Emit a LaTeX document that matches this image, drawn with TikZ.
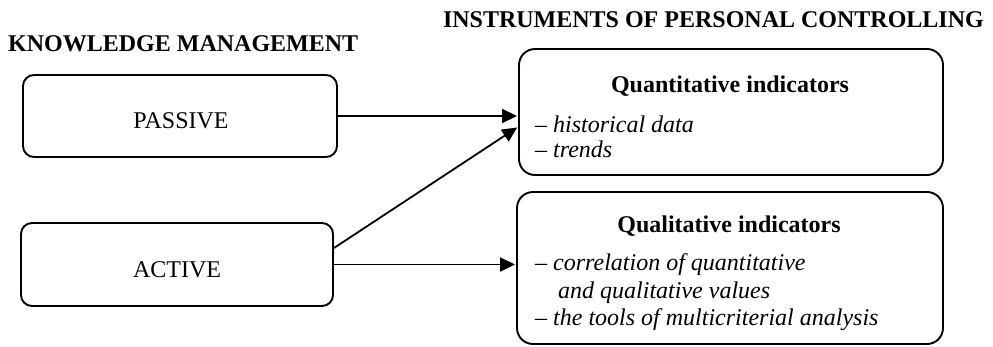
\documentclass[tikz,border=0pt]{standalone}
\usepackage{fontspec}
\setmainfont{Liberation Serif}
\usetikzlibrary{arrows.meta}
\begin{document}
\begin{tikzpicture}[x=1pt,y=-1pt,
  box/.style={draw,line width=1.9pt,rounded corners=11pt,inner sep=0pt},
  bigbox/.style={box,rounded corners=16pt},
  txt/.style={inner sep=0pt,font=\fontsize{24}{28}\selectfont},
  head/.style={txt,font=\fontsize{24}{28}\selectfont\bfseries},
  item/.style={txt,anchor=base west,font=\fontsize{24}{28}\selectfont\itshape},
  conn/.style={line width=1.8pt,shorten >=1pt,-{Triangle[length=15pt,width=14pt]}}]
\useasboundingbox (0,0) rectangle (993,346);

% column headings
\node[head,anchor=base west] (kmtitle) at (8,51) {KNOWLEDGE MANAGEMENT};
\node[head,anchor=base east] (ictitle) at (984,27) {INSTRUMENTS OF PERSONAL CONTROLLING};

% knowledge management modes
\node[box,minimum width=314pt,minimum height=82pt] (passive) at (180,116) {};
\node[txt,anchor=base] (passivetxt) at (181,128) {PASSIVE};
\node[box,minimum width=312pt,minimum height=83pt] (active) at (177,264.5) {};
\node[txt,anchor=base] (activetxt) at (177,277) {ACTIVE};

% controlling instruments
\node[bigbox,minimum width=424pt,minimum height=126pt] (quant) at (731,112) {};
\node[head,anchor=base] (quanthead) at (730,92) {Quantitative indicators};
\node[item] (q1) at (535,132) {{\upshape –} historical data};
\node[item] (q2) at (535,157) {{\upshape –} trends};

\node[bigbox,minimum width=426pt,minimum height=152pt] (qual) at (730,268) {};
\node[head,anchor=base] (qualhead) at (729,232) {Qualitative indicators};
\node[item] (l1) at (535,270) {{\upshape –} correlation of quantitative};
\node[item] (l2) at (558,298) {and qualitative values};
\node[item] (l3) at (535,325) {{\upshape –} the tools of multicriterial analysis};

% connectors
\draw[conn] (passive.east) -- (passive.east -| quant.west);
\draw[conn] (active.6) -- (quant.184);
\draw[conn] (active.east) -- (active.east -| qual.west);
\end{tikzpicture}
\end{document}
